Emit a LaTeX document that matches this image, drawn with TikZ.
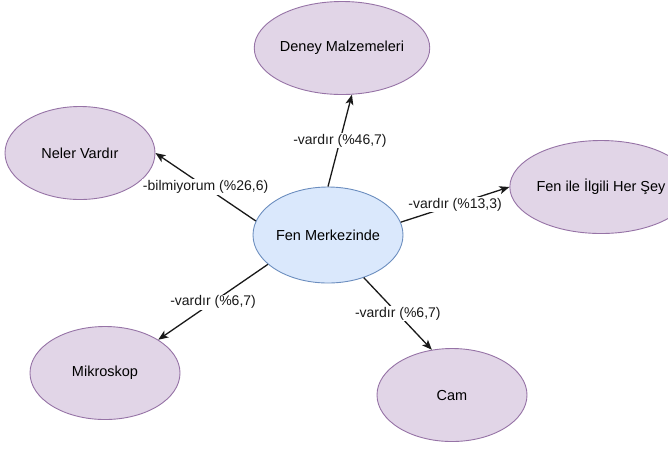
\documentclass[tikz,border=0pt]{standalone}
\usepackage{fontspec}
\setmainfont{Liberation Sans}
\usetikzlibrary{arrows.meta,shapes.geometric}
\definecolor{pfill}{HTML}{E1D5E7}
\definecolor{pdraw}{HTML}{9673A6}
\definecolor{bfill}{HTML}{DAE8FC}
\definecolor{bdraw}{HTML}{6C8EBF}
\begin{document}
\begin{tikzpicture}[x=1pt,y=-1pt,
  blob/.style={ellipse, draw=pdraw, fill=pfill, line width=0.9pt, minimum width=150pt, minimum height=93pt, inner sep=0pt, font=\fontsize{14.5}{17}\selectfont},
  hub/.style={blob, draw=bdraw, fill=bfill, minimum height=96pt},
  edge/.style={line width=1.3pt, draw=black!90, -{Stealth[length=10pt,width=8pt,inset=2.5pt]}},
  lbl/.style={fill=white, inner sep=1pt, font=\fontsize{14}{16}\selectfont, text=black!90}
]
\useasboundingbox (0,0) rectangle (668,448);
\node[hub]  (c) at (328,235) {Fen Merkezinde};
\node[blob] (d) at (342,48)  {Deney Malzemeleri};
\node[blob] (n) at (80,153)  {Neler Vardır};
\node[blob, minimum width=148pt] (f) at (601,187) {Fen ile İlgili Her Şey};
\node[blob] (m) at (105,373) {Mikroskop};
\node[blob] (k) at (452,395) {Cam};

\draw[edge] (c.90)  -- node[lbl] {-vardır (\%46,7)} (d.-78);
\draw[edge] (c.169) -- node[lbl] {-bilmiyorum (\%26,6)} (n.0);
\draw[edge] (c.10)  -- node[lbl] {-vardır (\%13,3)} (f.180);
\draw[edge] (c.206.6) -- node[lbl] {-vardır (\%6,7)} (m.32);
\draw[edge] (c.-50) -- node[lbl] {-vardır (\%6,7)} (k.114);
\end{tikzpicture}
\end{document}
